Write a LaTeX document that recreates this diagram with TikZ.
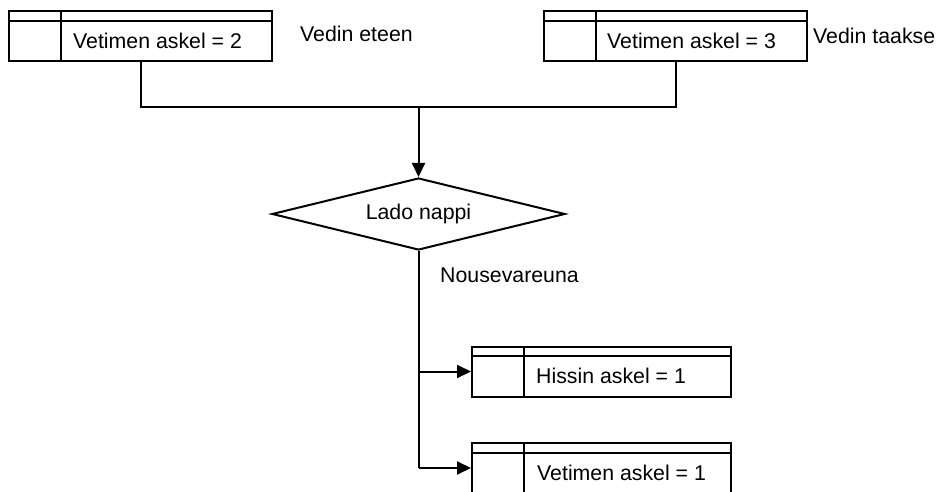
\documentclass[tikz,border=0pt]{standalone}
\usepackage{fontspec}
\setmainfont{Liberation Sans}
\usetikzlibrary{shapes.geometric,arrows.meta,calc}

\tikzset{
  every node/.style={font=\fontsize{21.3pt}{25pt}\selectfont},
  stroke/.style={line width=2pt},
  % action block: rectangle with a thin title strip and a narrow left column
  actbox/.style={draw, stroke, rectangle, inner sep=0pt,
    minimum width=263pt, minimum height=50pt,
    path picture={
      \draw[stroke] ([yshift=-9.5pt]path picture bounding box.north west)
                 -- ([yshift=-9.5pt]path picture bounding box.north east);
      \draw[stroke] ([xshift=52pt]path picture bounding box.north west)
                 -- ([xshift=52pt]path picture bounding box.south west);
    }},
  boxtext/.style={anchor=west, inner sep=0pt},
  plain/.style={anchor=west, inner sep=0pt},
  decision/.style={draw, stroke, diamond, aspect=4, inner sep=0pt,
    minimum width=293pt, minimum height=72pt},
  flow/.style={stroke, -{Triangle[length=14pt,width=13pt]}},
  link/.style={stroke}
}

\begin{document}
\begin{tikzpicture}[x=1pt, y=-1pt]
  \useasboundingbox (0,0) rectangle (943,492);

  % upper action blocks
  \node[actbox] (b1) at (140.5,36.5) {};
  \node[boxtext] (t1) at ([xshift=65pt,yshift=-4.5pt]b1.west) {Vetimen askel = 2};
  \node[actbox] (b2) at (675.5,36.5) {};
  \node[boxtext] (t2) at ([xshift=64pt,yshift=-4.5pt]b2.west) {Vetimen askel = 3};

  \node[plain] (l1) at (300,34) {Vedin eteen};
  \node[plain] (l2) at (813,36) {Vedin taakse};

  % decision
  \node[decision] (dia) at (418.5,214) {Lado nappi};
  \node[plain] (l3) at (440,275) {Nousevareuna};

  % lower action blocks
  \node[actbox, minimum width=259pt] (b3) at (601.5,371.5) {};
  \node[boxtext] (t3) at ([xshift=65pt,yshift=-4.5pt]b3.west) {Hissin askel = 1};
  \node[actbox, minimum width=259pt] (b4) at (601.5,468) {};
  \node[boxtext] (t4) at ([xshift=66pt,yshift=-4.5pt]b4.west) {Vetimen askel = 1};

  % junction points
  \coordinate (top) at (418.5,107);
  \coordinate (j1) at (418.5,371.5);
  \coordinate (j2) at (418.5,468);

  % connectors
  \draw[link] (b1.south) |- (top) -| (b2.south);
  \draw[flow] (top) -- (dia.north);
  \draw[link] (dia.south) -- (j2);
  \draw[flow] (j1) -- (b3.west);
  \draw[flow] (j2) -- (b4.west);
\end{tikzpicture}
\end{document}
